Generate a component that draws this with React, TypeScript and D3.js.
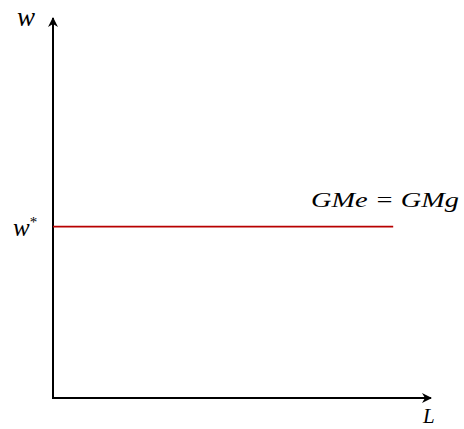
import * as d3 from "d3";
import { useRef, useEffect } from "react";

// Equilibrium wage line GMe = GMg (horizontal at w*)
const wageLevel = [0.451];
const lineSpan = [0, 0.9];
const axisLabels = ["w", "L"];
const wageTick = ["w*"];
const curveLabels = ["GMe = GMg"];

export default function App() {
  const svgRef = useRef<SVGSVGElement>(null);
  const width = 464;
  const height = 429;

  useEffect(() => {
    const svg = d3.select(svgRef.current);
    svg.selectAll("*").remove();

    const x = d3.scaleLinear().domain([0, 1]).range([53, 431]);
    const y = d3.scaleLinear().domain([0, 1]).range([398, 18]);

    const font = "'Liberation Serif', 'DejaVu Serif', serif";

    const defs = svg.append("defs");
    defs
      .append("marker")
      .attr("id", "arrow")
      .attr("viewBox", "0 0 10 10")
      .attr("refX", 9)
      .attr("refY", 5)
      .attr("markerWidth", 11)
      .attr("markerHeight", 10)
      .attr("markerUnits", "userSpaceOnUse")
      .attr("orient", "auto")
      .append("path")
      .attr("d", "M0,0 L10,5 L0,10 L3,5 Z")
      .attr("fill", "#000");

    // axes
    svg
      .append("line")
      .attr("x1", x(0))
      .attr("y1", y(0) + 1)
      .attr("x2", x(0))
      .attr("y2", y(1))
      .attr("stroke", "#000")
      .attr("stroke-width", 2)
      .attr("marker-end", "url(#arrow)");

    svg
      .append("line")
      .attr("x1", x(0) - 1)
      .attr("y1", y(0))
      .attr("x2", x(1))
      .attr("y2", y(0))
      .attr("stroke", "#000")
      .attr("stroke-width", 2)
      .attr("marker-end", "url(#arrow)");

    // wage line
    svg
      .selectAll(".wage")
      .data(wageLevel)
      .join("line")
      .attr("x1", x(lineSpan[0]))
      .attr("x2", x(lineSpan[1]))
      .attr("y1", (d) => y(d))
      .attr("y2", (d) => y(d))
      .attr("stroke", "#b80000")
      .attr("stroke-width", 1.8);

    // labels
    svg
      .append("text")
      .attr("x", 17)
      .attr("y", 26)
      .attr("font-family", font)
      .attr("font-style", "italic")
      .attr("font-size", 27)
      .text(axisLabels[0]);

    svg
      .append("text")
      .attr("x", 423)
      .attr("y", 423)
      .attr("font-family", font)
      .attr("font-style", "italic")
      .attr("font-size", 21)
      .text(axisLabels[1]);

    const wt = svg
      .append("text")
      .attr("x", 13)
      .attr("y", y(wageLevel[0]) + 9)
      .attr("font-family", font)
      .attr("font-style", "italic")
      .attr("font-size", 25);
    wt.append("tspan").text(wageTick[0].slice(0, 1));
    wt.append("tspan")
      .attr("font-size", 15)
      .attr("dy", -9)
      .attr("font-style", "normal")
      .text(wageTick[0].slice(1));

    svg
      .append("text")
      .attr("x", 311)
      .attr("y", y(wageLevel[0]) - 20)
      .attr("textLength", 148)
      .attr("lengthAdjust", "spacingAndGlyphs")
      .attr("font-family", font)
      .attr("font-style", "italic")
      .attr("font-size", 21)
      .text(curveLabels[0]);
  }, []);

  return (
    <svg
      ref={svgRef}
      width={width}
      height={height}
      style={{ position: "absolute", left: 0, top: 0 }}
    ></svg>
  );
}
